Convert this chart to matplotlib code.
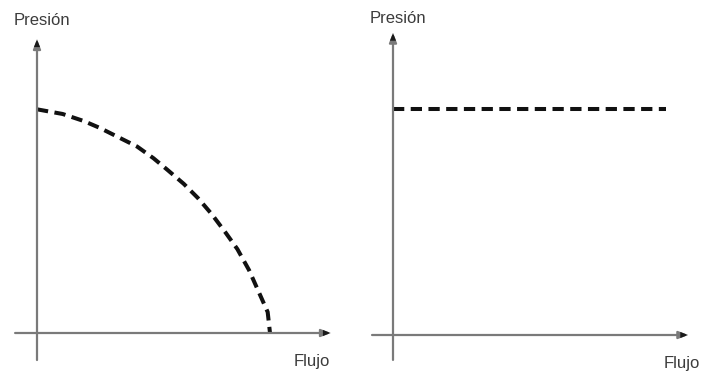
import matplotlib
matplotlib.use("Agg")
import matplotlib.pyplot as plt

plt.rcParams['font.family'] = ['Liberation Sans', 'DejaVu Sans']

# Panel 1: pump curve, pressure falls as flow rises
flow_curve = [0, 11, 20, 27, 35, 43, 50, 56, 63, 69, 75, 81, 86, 91, 95, 99, 100]
pressure_curve = [96, 94, 91, 88, 84, 80, 75, 70, 64, 58, 51, 43, 36, 27, 18, 9, 0]

# Panel 2: constant pressure regardless of flow
flow_const = [0, 117]
pressure_const = [97, 97]

x_label = "Flujo"
y_label = "Presión"

W, H, DPI = 702, 374, 100
SCALE = 2.33  # pixels per data unit

fig = plt.figure(figsize=(W / DPI, H / DPI), dpi=DPI)
fig.patch.set_facecolor('white')

axis_color = '#7a7a7a'
text_color = '#3c3c3c'


def make_panel(x0_px, x1_px, origin_x_px, origin_y_px):
    ax = fig.add_axes([x0_px / W, 0, (x1_px - x0_px) / W, 1])
    ax.set_xlim(-(origin_x_px - x0_px) / SCALE, (x1_px - origin_x_px) / SCALE)
    ax.set_ylim(-(H - origin_y_px) / SCALE, origin_y_px / SCALE)
    ax.axis('off')
    return ax


def draw_axes(ax, x_ext, y_ext, xlab_pos, ylab_pos):
    arrow = dict(arrowstyle='-|>,head_length=0.55,head_width=0.22',
                 color=axis_color, lw=1.6, shrinkA=0, shrinkB=0)
    ax.annotate('', xy=(x_ext[1], 0), xytext=(x_ext[0], 0), arrowprops=arrow)
    ax.annotate('', xy=(0, y_ext[1]), xytext=(0, y_ext[0]), arrowprops=arrow)
    # dark arrow heads
    for xy, xyt in [((x_ext[1], 0), (x_ext[1] - 4, 0)), ((0, y_ext[1]), (0, y_ext[1] - 4))]:
        ax.annotate('', xy=xy, xytext=xyt,
                    arrowprops=dict(arrowstyle='-|>,head_length=0.55,head_width=0.22',
                                    color='#1a1a1a', lw=0.01, shrinkA=0, shrinkB=0))
    ax.text(*xlab_pos, x_label, ha='center', va='center', fontsize=12, color=text_color)
    ax.text(*ylab_pos, y_label, ha='center', va='center', fontsize=12, color=text_color)


dash_style = dict(color='#111111', lw=2.9, linestyle=(0, (2.8, 1.6)),
                  solid_capstyle='butt', dash_capstyle='butt')

# Left panel
ax1 = make_panel(0, 351, 37, 333)
draw_axes(ax1, (-9.4, 126), (-11.6, 126), (118, -12.4), (2.1, 134.3))
ax1.plot(flow_curve, pressure_curve, **dash_style)

# Right panel
ax2 = make_panel(351, 702, 393, 335)
draw_axes(ax2, (-9.0, 126.6), (-10.7, 129.6), (124, -12.2), (2.1, 136))
ax2.plot(flow_const, pressure_const, **dash_style)

fig.savefig('out.png', dpi=DPI, facecolor='white')
